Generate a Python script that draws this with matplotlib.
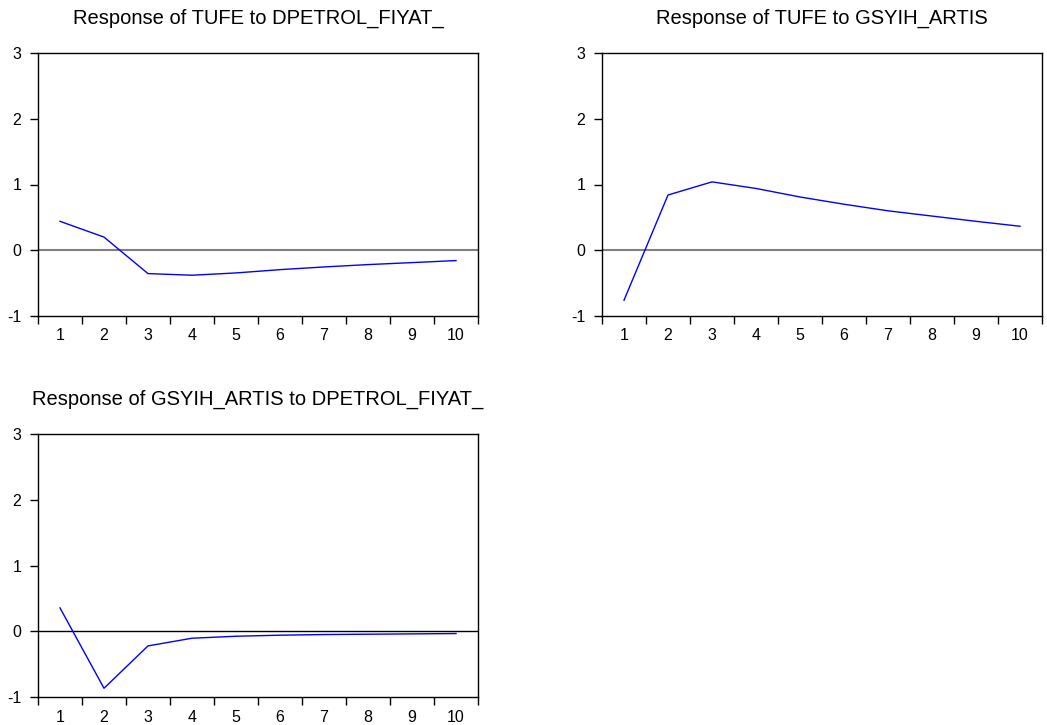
import matplotlib
matplotlib.use("Agg")
import matplotlib.pyplot as plt
import numpy as np

plt.rcParams['font.family'] = ['Liberation Sans', 'DejaVu Sans']

periods = np.arange(1, 11)
period_labels = [str(p) for p in periods]

# impulse responses, 10 periods
tufe_to_petrol = [0.44, 0.20, -0.355, -0.38, -0.345, -0.295, -0.254, -0.218, -0.188, -0.157]
tufe_to_gsyih = [-0.76, 0.84, 1.04, 0.94, 0.81, 0.70, 0.60, 0.52, 0.44, 0.365]
gsyih_to_petrol = [0.355, -0.867, -0.223, -0.106, -0.076, -0.06, -0.05, -0.045, -0.04, -0.035]

titles = ["Response of TUFE to DPETROL_FIYAT_",
          "Response of TUFE to GSYIH_ARTIS",
          "Response of GSYIH_ARTIS to DPETROL_FIYAT_"]
y_ticks = [-1, 0, 1, 2, 3]

W, H = 1047, 725
fig = plt.figure(figsize=(W / 100, H / 100), dpi=100)


def px_axes(left, top, right, bottom):
    return fig.add_axes([left / W, 1 - bottom / H, (right - left) / W, (bottom - top) / H])


def draw_panel(ax, values, title, zero_color, zero_lw):
    ax.plot(periods, values, color='#0000FF', lw=1.0, zorder=3)
    ax.axhline(0, color=zero_color, lw=zero_lw, zorder=2)
    ax.set_xlim(0.5, 10.5)
    ax.set_ylim(-1, 3)
    ax.set_yticks(y_ticks)
    ax.set_yticklabels([str(v) for v in y_ticks])
    ax.set_xticks(periods)
    ax.set_xticklabels(period_labels)
    ax.set_xticks(np.arange(0.5, 11, 1), minor=True)
    ax.tick_params(axis='x', which='major', length=0, pad=9, labelsize=11.5)
    ax.tick_params(axis='x', which='minor', length=6, width=1, direction='out')
    ax.tick_params(axis='y', which='major', length=6, width=1, direction='out',
                   pad=6, labelsize=11.5)
    for s in ax.spines.values():
        s.set_linewidth(1.0)
        s.set_color('black')
    ax.set_title(title, fontsize=14.5, pad=21)


ax1 = px_axes(38, 53, 478, 316)
draw_panel(ax1, tufe_to_petrol, titles[0], '#808080', 1.5)

ax2 = px_axes(602, 53, 1042, 316)
draw_panel(ax2, tufe_to_gsyih, titles[1], '#808080', 1.5)

ax3 = px_axes(38, 434, 478, 697)
draw_panel(ax3, gsyih_to_petrol, titles[2], 'black', 1.0)

fig.savefig("out.png", dpi=100)
